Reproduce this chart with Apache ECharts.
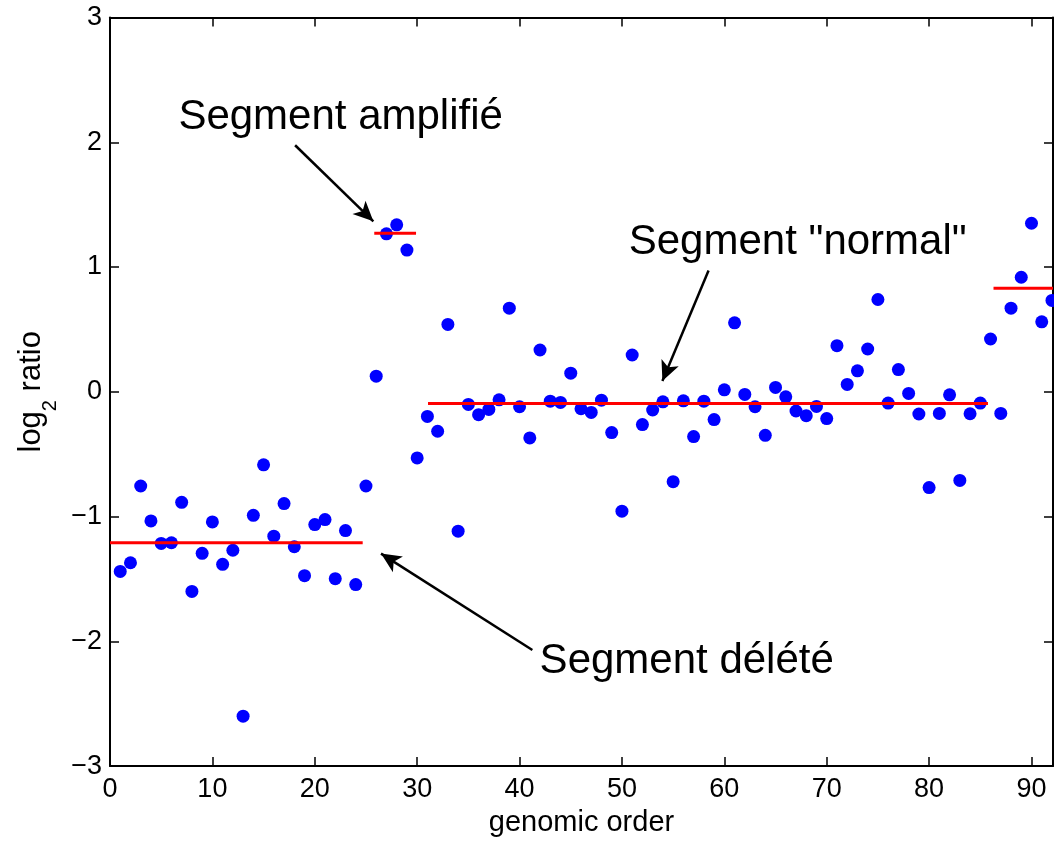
<!DOCTYPE html>
<html><head><meta charset="utf-8">
<script src="https://cdn.jsdelivr.net/npm/echarts@6/dist/echarts.min.js"></script>
<style>html,body{margin:0;padding:0;background:#fff}#c{width:1054px;height:842px}</style>
</head><body><div id="c"></div>
<script>
const genomicOrder = [1,2,3,4,5,6,7,8,9,10,11,12,13,14,15,16,17,18,19,20,21,22,23,24,25,26,27,28,29,30,31,32,33,34,35,36,37,38,39,40,41,42,43,44,45,46,47,48,49,50,51,52,53,54,55,56,57,58,59,60,61,62,63,64,65,66,67,68,69,70,71,72,73,74,75,76,77,78,79,80,81,82,83,84,85,86,87,88,89,90,91,92];
const log2Ratio = [-1.44,-1.37,-0.755,-1.035,-1.215,-1.21,-0.886,-1.60,-1.295,-1.043,-1.383,-1.27,-2.60,-0.99,-0.585,-1.157,-0.896,-1.242,-1.474,-1.064,-1.024,-1.498,-1.112,-1.545,-0.755,
  0.125,1.266,1.338,1.136,-0.53,-0.197,-0.316,0.54,-1.117,-0.101,-0.183,-0.141,-0.064,0.67,-0.12,-0.37,0.335,-0.075,-0.085,0.149,-0.136,-0.165,-0.067,-0.327,-0.957,
  0.295,-0.263,-0.146,-0.08,-0.72,-0.072,-0.359,-0.075,-0.223,0.016,0.553,-0.021,-0.12,-0.349,0.035,-0.04,-0.154,-0.191,-0.117,-0.215,0.37,0.059,0.168,0.343,0.74,
  -0.09,0.178,-0.013,-0.178,-0.768,-0.173,-0.024,-0.71,-0.176,-0.09,0.423,-0.173,0.67,0.918,1.351,0.561,0.732];
const segStart = [0, 25.81, 31.06, 86.29];
const segEnd   = [24.68, 29.89, 85.75, 92.1];
const segLevel = [-1.209, 1.271, -0.094, 0.829];
const noteText = ['Segment amplifié', 'Segment "normal"', 'Segment délété'];
const noteX = [6.68, 50.66, 41.96];
const noteY = [2.202, 1.199, -2.163];
const arrowFromX = [18.08, 58.46, 41.25];
const arrowFromY = [1.976, 0.972, -2.069];
const arrowToX = [25.72, 53.95, 26.47];
const arrowToY = [1.366, 0.086, -1.297];
const xMin = 0, xMax = 92.1, xStep = 10;
const yMin = -3, yMax = 3, yStep = 1;

const FONT = '"Liberation Sans", Arial, Helvetica, sans-serif';
const minus = v => String(v).replace('-', '\u2212');

const series = [
  {
    type: 'scatter', name: 'log2 ratio',
    data: genomicOrder.map((x, i) => [x, log2Ratio[i]]),
    symbol: 'circle', symbolSize: 13,
    itemStyle: { color: '#0000ff', opacity: 1 },
    z: 2, silent: true
  }
];
segStart.forEach((s, i) => {
  series.push({
    type: 'line', data: [[s, segLevel[i]], [segEnd[i], segLevel[i]]],
    symbol: 'none', lineStyle: { color: '#ff0000', width: 3 }, z: 3, silent: true
  });
});
series.push({
  type: 'scatter',
  data: noteText.map((t, i) => ({ name: t, value: [noteX[i], noteY[i]] })),
  symbolSize: 0.01, itemStyle: { color: 'transparent' }, z: 5, silent: true,
  label: {
    show: true, position: [0, 0], align: 'left', verticalAlign: 'middle', opacity: 1,
    formatter: p => p.name, color: '#000000', textBorderWidth: 0, fontSize: 42, fontFamily: FONT
  },
  labelLayout: { hideOverlap: false },
  markLine: {
    silent: true, symbol: ['none', 'arrow'], symbolSize: [14, 20],
    label: { show: false },
    lineStyle: { color: '#000', width: 2.5, type: 'solid', opacity: 1 },
    data: arrowFromX.map((x, i) => [{ coord: [x, arrowFromY[i]] }, { coord: [arrowToX[i], arrowToY[i]] }])
  }
});

const tickCommon = { inside: true, length: 9, lineStyle: { color: '#000', width: 1.5 } };
const option = {
  animation: false,
  backgroundColor: '#fff',
  grid: { left: 110, right: 1, top: 17.5, bottom: 72.7, containLabel: false },
  xAxis: [
    {
      type: 'value', min: xMin, max: xMax, interval: xStep, position: 'bottom',
      name: 'genomic order', nameLocation: 'middle', nameGap: 41,
      nameTextStyle: { fontSize: 29, color: '#000', fontFamily: FONT },
      axisLine: { show: true, onZero: false, lineStyle: { color: '#000', width: 2 } },
      axisTick: tickCommon,
      axisLabel: { fontSize: 27, color: '#000', fontFamily: FONT, margin: 10, showMaxLabel: false, formatter: minus },
      splitLine: { show: false }
    },
    {
      type: 'value', min: xMin, max: xMax, interval: xStep, position: 'top',
      axisLine: { show: true, onZero: false, lineStyle: { color: '#000', width: 2 } },
      axisTick: tickCommon, axisLabel: { show: false }, splitLine: { show: false }
    }
  ],
  yAxis: [
    {
      type: 'value', min: yMin, max: yMax, interval: yStep, position: 'left',
      name: '{a|log}{s|2}{a| ratio}', nameLocation: 'middle', nameRotate: 90, nameGap: 55,
      nameTextStyle: {
        color: '#000', fontFamily: FONT,
        rich: {
          a: { fontSize: 31, color: '#000', fontFamily: FONT, verticalAlign: 'top', lineHeight: 32 },
          s: { fontSize: 20, color: '#000', fontFamily: FONT, verticalAlign: 'top', lineHeight: 20, padding: [24, 0, 0, 0] }
        }
      },
      axisLine: { show: true, onZero: false, lineStyle: { color: '#000', width: 2 } },
      axisTick: tickCommon,
      axisLabel: { fontSize: 27, color: '#000', fontFamily: FONT, margin: 8, formatter: minus },
      splitLine: { show: false }
    },
    {
      type: 'value', min: yMin, max: yMax, interval: yStep, position: 'right',
      axisLine: { show: true, onZero: false, lineStyle: { color: '#000', width: 2 } },
      axisTick: tickCommon, axisLabel: { show: false }, splitLine: { show: false }
    }
  ],
  series: series
};
const chart = echarts.init(document.getElementById('c'), null, { renderer: 'canvas' });
chart.setOption(option);
</script>
</body></html>
